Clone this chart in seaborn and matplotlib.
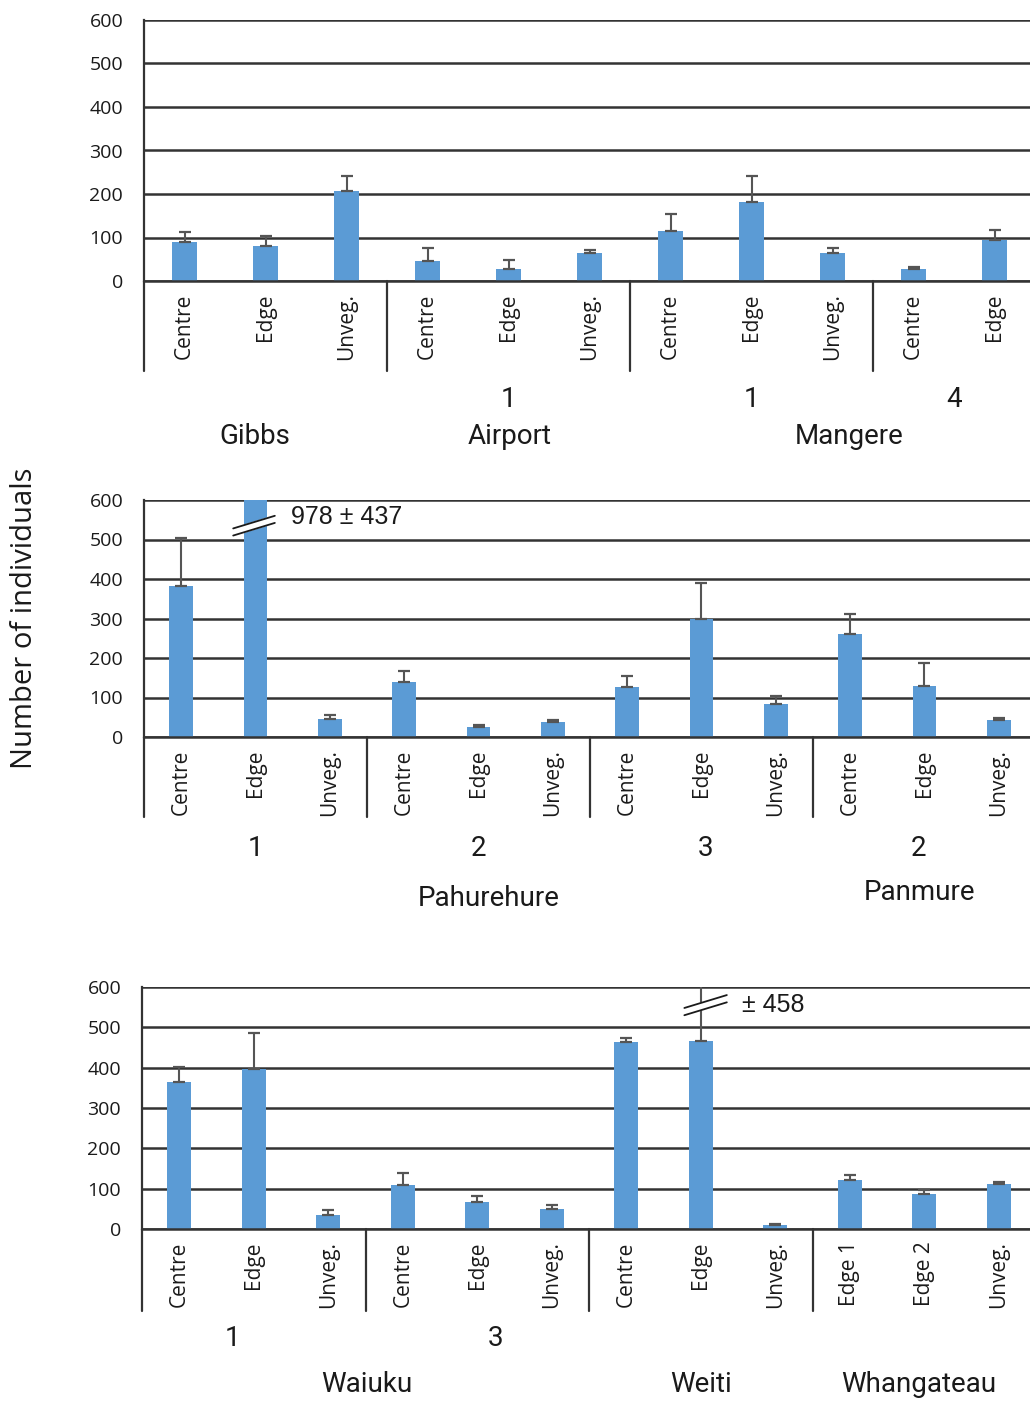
import numpy as np
import pandas as pd
import seaborn as sns
import matplotlib.pyplot as plt
from matplotlib import transforms

# ---- data ----
p1_labels = ["Centre", "Edge", "Unveg.", "Centre", "Edge", "Unveg.",
             "Centre", "Edge", "Unveg.", "Centre", "Edge"]
p1_means = [89, 81, 207, 46, 28, 65, 115, 181, 64, 28, 94]
p1_errs = [24, 23, 34, 29, 20, 6, 40, 60, 12, 5, 23]
p1_numbers = ["1", "1", "4"]
p1_sites = ["Gibbs", "Airport", "Mangere"]

p2_labels = ["Centre", "Edge", "Unveg."] * 4
p2_means = [382, 978, 46, 140, 26, 37, 126, 299, 83, 260, 130, 43]
p2_errs = [121, 437, 10, 28, 5, 6, 29, 90, 21, 51, 58, 4]
p2_numbers = ["1", "2", "3", "2"]
p2_sites = ["Pahurehure", "Panmure"]

p3_labels = ["Centre", "Edge", "Unveg."] * 3 + ["Edge 1", "Edge 2", "Unveg."]
p3_means = [365, 397, 35, 110, 67, 49, 464, 465, 9, 121, 87, 111]
p3_errs = [36, 90, 12, 29, 14, 11, 10, 458, 3, 14, 9, 6]
p3_numbers = ["1", "3"]
p3_sites = ["Waiuku", "Weiti", "Whangateau"]

y_ticks = [0, 100, 200, 300, 400, 500, 600]

BAR = "#5B9BD5"
LINE = "#333333"
W, H = 1030, 1403

sns.set_style("white")
plt.rcParams["font.family"] = ["Open Sans", "DejaVu Sans"]


def fy(px):
    return 1 - px / H


def draw_panel(fig, rect_px, labels, means, errs, sep_bottom_px):
    left, top, width, bottom = rect_px
    ax = fig.add_axes([left / W, fy(bottom), width / W, (bottom - top) / H])
    df = pd.DataFrame({"id": [f"{i}" for i in range(len(labels))],
                       "value": means})
    sns.barplot(data=df, x="id", y="value", color=BAR, saturation=1,
                width=0.32, linewidth=0, ax=ax)
    x = np.arange(len(labels))
    ax.errorbar(x, means, yerr=[np.zeros(len(errs)), errs], fmt="none",
                ecolor="#555555", elinewidth=1.5, capsize=4.5, capthick=1.6,
                zorder=3)
    ax.set_xlim(-0.5, len(labels) - 0.5)
    ax.set_ylim(0, 600)
    ax.set_yticks(y_ticks)
    ax.set_yticklabels([str(t) for t in y_ticks], fontsize=14, color="#1a1a1a")
    ax.set_xticks(x)
    ax.set_xticklabels(labels, rotation=90, fontsize=15, color="#1a1a1a")
    ax.tick_params(axis="y", length=0, pad=15)
    ax.tick_params(axis="x", length=0, pad=9)
    ax.set_xlabel("")
    ax.set_ylabel("")
    ax.yaxis.grid(True, color=LINE, linewidth=1.8)
    ax.set_axisbelow(True)
    for s in ["top", "right"]:
        ax.spines[s].set_visible(False)
    ax.spines["left"].set_color(LINE)
    ax.spines["left"].set_linewidth(1.6)
    ax.spines["bottom"].set_color(LINE)
    ax.spines["bottom"].set_linewidth(1.8)
    # group separators below the axis
    depth = (sep_bottom_px - bottom) / (bottom - top)
    tr = ax.get_xaxis_transform()
    for xs in np.arange(-0.5, len(labels) - 1, 3):
        ax.plot([xs, xs], [0, -depth], color=LINE, lw=1.6, transform=tr,
                clip_on=False)
    return ax


def group_text(fig, ax, xs, ys_px, texts, size):
    tr = transforms.blended_transform_factory(ax.transData, fig.transFigure)
    for xv, yp, t in zip(xs, ys_px, texts):
        fig.text(xv, fy(yp), t, transform=tr, ha="center", va="center",
                 fontsize=size, family=["Roboto", "DejaVu Sans"],
                 color="#1a1a1a")


def break_mark(ax, xc, x0, x1, y0, y1, gap):
    xs = [xc + x0, xc + x1, xc + x1, xc + x0]
    ys = [y0, y1, y1 + gap, y0 + gap]
    ax.fill(xs, ys, color="white", zorder=4, clip_on=False)
    ax.plot([xc + x0, xc + x1], [y0, y1], color="#1a1a1a", lw=1.3, zorder=5,
            clip_on=False)
    ax.plot([xc + x0, xc + x1], [y0 + gap, y1 + gap], color="#1a1a1a",
            lw=1.3, zorder=5, clip_on=False)


fig = plt.figure(figsize=(W / 100, H / 100), dpi=100)

ax1 = draw_panel(fig, (144, 20, 891, 281), p1_labels, p1_means, p1_errs, 371)
group_text(fig, ax1, [4, 7, 9.5], [400, 400, 400], p1_numbers, 20)
group_text(fig, ax1, [0.87, 4.02, 8.2], [436, 436, 436], p1_sites, 20)

ax2 = draw_panel(fig, (144, 500, 892, 737), p2_labels, p2_means, p2_errs, 817)
group_text(fig, ax2, [1, 4, 7.05, 9.92], [849] * 4, p2_numbers, 20)
group_text(fig, ax2, [4.14, 9.93], [899, 893], p2_sites, 20)
break_mark(ax2, 1, -0.3, 0.26, 510, 542, 18)
ax2.text(1.48, 557, f"{p2_means[1]} \u00b1 {p2_errs[1]}", fontsize=18,
         family=["Liberation Sans", "DejaVu Sans"], va="center", ha="left",
         color="#1a1a1a")

ax3 = draw_panel(fig, (142, 987, 894, 1229), p3_labels, p3_means, p3_errs, 1311)
group_text(fig, ax3, [0.72, 4.25], [1338, 1338], p3_numbers, 20)
group_text(fig, ax3, [2.52, 7.0, 9.93], [1385] * 3, p3_sites, 20)
break_mark(ax3, 7, -0.22, 0.35, 530, 562, 18)
ax3.text(7.55, 556, f"\u00b1 {p3_errs[7]}", fontsize=18,
         family=["Liberation Sans", "DejaVu Sans"], va="center", ha="left",
         color="#1a1a1a")

fig.text(25 / W, fy(618), "Number of individuals", rotation=90, ha="center",
         va="center", fontsize=21, color="#1a1a1a")

fig.savefig("out.png", dpi=100)
